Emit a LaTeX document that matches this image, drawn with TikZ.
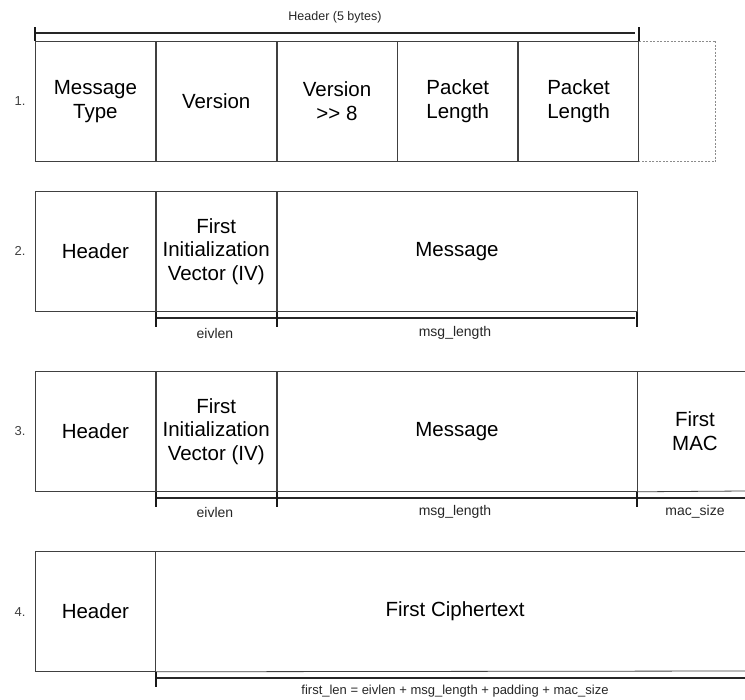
\documentclass[tikz,border=0pt]{standalone}
\usepackage{fontspec}
\setmainfont{Liberation Sans}
\begin{document}
\begin{tikzpicture}[x=1pt,y=-1pt,
  box/.style={draw=black!75, line width=0.8pt, inner sep=0pt, minimum height=120pt, minimum width=120pt, align=center, font=\fontsize{20.5}{23.5}\selectfont, anchor=north west},
  txt/.style={inner sep=0pt, align=center, font=\fontsize{20.5}{23.5}\selectfont},
  lbl/.style={inner sep=0pt, font=\fontsize{14}{16}\selectfont, text=black!85},
  lblsmall/.style={inner sep=0pt, font=\fontsize{13}{15}\selectfont, text=black!85},
  num/.style={inner sep=0pt, font=\fontsize{13}{15}\selectfont, text=black!75},
  edge/.style={draw=black!75, line width=0.8pt},
  dimline/.style={line width=1.5pt, black!85},
  tick/.style={line width=2pt, black!90},
  dashbox/.style={draw=black!45, line width=0.8pt, dashed, dash pattern=on 2pt off 1.5pt},
]
\useasboundingbox (0,0) rectangle (745,700);

% ---------- Row 1 ----------
\node[num] (n1) at (20,101) {1.};
\node[box] (a1) at (35,41) {Message\\Type};
\node[box] (a2) at (a1.north east) {Version};
\node[box] (a3) at (a2.north east) {Version\\>\kern0pt> 8};
\node[box] (a4) at (a3.north east) {Packet\\Length};
\node[box] (a5) at (a4.north east) {Packet\\Length};
\node[box, draw=none, minimum width=76pt] (a6) at (a5.north east) {};
\draw[dashbox] (a6.north west) -- (a6.north east) -- (a6.south east) -- (a6.south west);
\coordinate (h1) at (35,33);
\coordinate (h2) at (635,33);
\draw[dimline] (h1) -- (h2);
\draw[tick] (a1.north west) -- ++(0,-14);
\draw[tick] (a5.north east) -- ++(0,-14);
\node[lbl, font=\fontsize{12.5}{14}\selectfont] (hdr) at (335,17) {Header (5 bytes)};

% ---------- Row 2 ----------
\node[num] (n2) at (20,251) {2.};
\node[box] (b1) at (35,191) {Header};
\node[box] (b2) at (b1.north east) {First\\Initialization\\Vector (IV)};
\node[box, minimum width=360pt] (b3) at (b2.north east) {Message};
\coordinate (b2d) at (155,318);
\coordinate (b3d) at (635,318);
\draw[dimline] (b2d) -- (b3d);
\draw[tick] (b2.south west) -- ++(0,15);
\draw[tick] (b3.south west) -- ++(0,15);
\draw[tick] (b3.south east) -- ++(0,15);
\node[lbl] (eiv2) at (215,333) {eivlen};
\node[lbl] (msg2) at (455,333) {msg\_length};

% ---------- Row 3 ----------
\node[num] (n3) at (20,431) {3.};
\node[box] (c1) at (35,371) {Header};
\node[box] (c2) at (c1.north east) {First\\Initialization\\Vector (IV)};
\node[box, minimum width=360pt] (c3) at (c2.north east) {Message};
\node[txt] (c4) at (695,431) {First\\MAC};
\coordinate (c4t) at (745,371);
\coordinate (c4b) at (745,491);
\draw[edge] (c3.north east) -- (c4t);
\draw[edge] (c3.south east) -- (c4b);
\coordinate (c2d) at (155,498);
\coordinate (c4d) at (745,498);
\draw[dimline] (c2d) -- (c4d);
\draw[tick] (c2.south west) -- ++(0,15);
\draw[tick] (c3.south west) -- ++(0,15);
\draw[tick] (c3.south east) -- ++(0,15);
\node[lbl] (eiv3) at (215,512) {eivlen};
\node[lbl] (msg3) at (455,512) {msg\_length};
\node[lbl] (mac3) at (695,512) {mac\_size};

% ---------- Row 4 ----------
\node[num] (n4) at (20,612) {4.};
\node[box] (d1) at (35,551) {Header};
\node[txt] (d2) at (455,611) {First Ciphertext};
\coordinate (d2t) at (745,551);
\coordinate (d2b) at (745,671);
\draw[edge] (d1.north east) -- (d2t);
\draw[edge] (d1.south east) -- (d2b);
\coordinate (d1d) at (155,678);
\coordinate (d2d) at (745,678);
\draw[dimline] (d1d) -- (d2d);
\draw[tick] (d1.south east) -- ++(0,15);
\node[lblsmall] (flen) at (455,691) {first\_len = eivlen + msg\_length + padding + mac\_size};
\end{tikzpicture}
\end{document}
